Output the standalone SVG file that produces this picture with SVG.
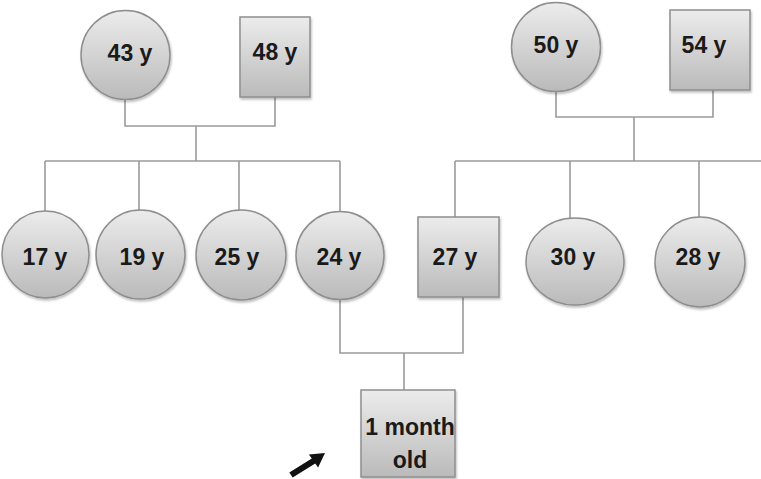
<svg xmlns="http://www.w3.org/2000/svg" width="761" height="479" viewBox="0 0 761 479">
<defs>
<linearGradient id="g" x1="0" y1="0" x2="0" y2="1">
<stop offset="0" stop-color="#ececec"/>
<stop offset="1" stop-color="#bababa"/>
</linearGradient>
<filter id="sh" x="-10%" y="-10%" width="125%" height="125%">
<feDropShadow dx="1" dy="2" stdDeviation="1.2" flood-color="#000" flood-opacity="0.25"/>
</filter>
</defs>
<style>
.n{fill:url(#g);stroke:#8e8e8e;stroke-width:1.5;filter:url(#sh)}
.t{font-family:"Liberation Sans",Arial,sans-serif;font-weight:bold;font-size:23px;fill:#1a1a1a;text-anchor:middle}
.c{fill:none;stroke:#9a9a9a;stroke-width:1.6}
</style>
<g id="connectors">
<polyline class="c" points="125,100 125,126 275,126 275,97"/>
<line class="c" x1="196" y1="126" x2="196" y2="161"/>
<line class="c" x1="45" y1="161" x2="340" y2="161"/>
<line class="c" x1="45" y1="161" x2="45" y2="211"/>
<line class="c" x1="139" y1="161" x2="139" y2="211"/>
<line class="c" x1="239" y1="161" x2="239" y2="211"/>
<line class="c" x1="340" y1="161" x2="340" y2="211"/>
<polyline class="c" points="556,92 556,117 713,117 713,90"/>
<line class="c" x1="634" y1="117" x2="634" y2="161"/>
<line class="c" x1="455" y1="161" x2="761" y2="161"/>
<line class="c" x1="455" y1="161" x2="455" y2="217"/>
<line class="c" x1="570" y1="161" x2="570" y2="218"/>
<line class="c" x1="699" y1="161" x2="699" y2="217"/>
<polyline class="c" points="340,300 340,353 463,353 463,297"/>
<line class="c" x1="404" y1="353" x2="404" y2="390"/>
</g>
<g id="n43"><circle class="n" cx="125.5" cy="55" r="44.5"/><text class="t" x="130" y="61">43 y</text></g>
<g id="n48"><rect class="n" x="240" y="17" width="70" height="80"/><text class="t" x="275" y="60">48 y</text></g>
<g id="n50"><circle class="n" cx="556" cy="47" r="44.5"/><text class="t" x="556" y="53">50 y</text></g>
<g id="n54"><rect class="n" x="670" y="10" width="80" height="80"/><text class="t" x="704" y="53">54 y</text></g>
<g id="n17"><circle class="n" cx="45.5" cy="254.5" r="43.5"/><text class="t" x="45" y="265">17 y</text></g>
<g id="n19"><circle class="n" cx="140.5" cy="254.5" r="44.5"/><text class="t" x="142" y="265">19 y</text></g>
<g id="n25"><circle class="n" cx="241" cy="255" r="45"/><text class="t" x="237" y="265">25 y</text></g>
<g id="n24"><circle class="n" cx="340" cy="255.5" r="44"/><text class="t" x="339" y="265">24 y</text></g>
<g id="n27"><rect class="n" x="418" y="217" width="81" height="80"/><text class="t" x="455" y="265">27 y</text></g>
<g id="n30"><ellipse class="n" cx="575" cy="261.5" rx="49" ry="43.5"/><text class="t" x="573" y="265">30 y</text></g>
<g id="n28"><circle class="n" cx="700" cy="262" r="45"/><text class="t" x="698" y="265">28 y</text></g>
<g id="child"><rect class="n" x="361" y="390" width="94" height="87"/><text class="t" x="410" y="435">1 month</text><text class="t" x="410" y="468">old</text></g>
<g id="arrow"><polygon points="325,453 318.1,467.6 315.2,463.5 292.7,477.5 289.3,472.5 311.8,458.5 308.9,454.4" fill="#111"/></g>
</svg>
